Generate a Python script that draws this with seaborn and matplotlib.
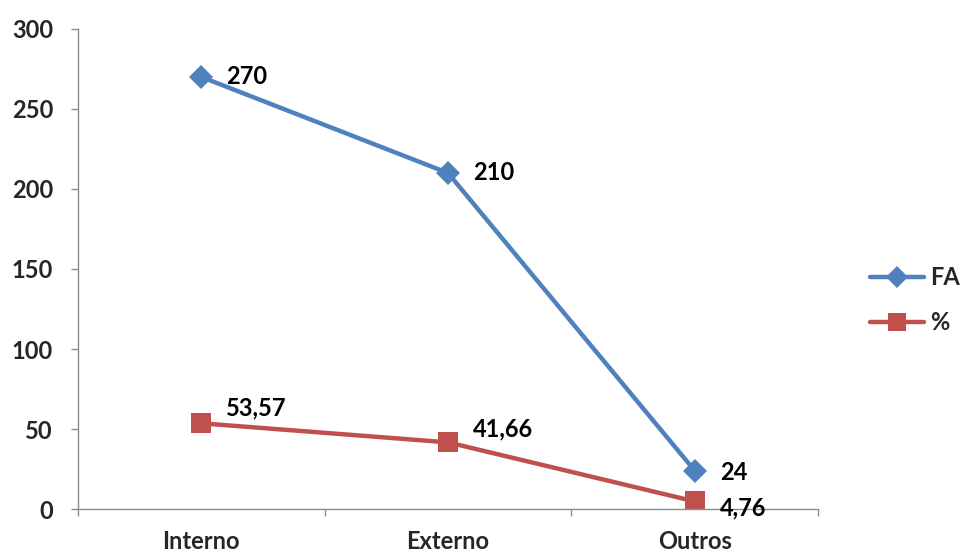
import matplotlib
matplotlib.use("Agg")
import matplotlib.pyplot as plt
import seaborn as sns
import pandas as pd
from matplotlib.lines import Line2D

categories = ["Interno", "Externo", "Outros"]
fa_values = [270, 210, 24]
pct_values = [53.57, 41.66, 4.76]
fa_labels = ["270", "210", "24"]
pct_labels = ["53,57", "41,66", "4,76"]
y_ticks = [0, 50, 100, 150, 200, 250, 300]

sns.set_theme(style="white")
plt.rcParams["font.family"] = ["Lato", "DejaVu Sans"]

BLUE = "#4F81BD"
RED = "#C0504D"
AXIS = "#8C8C8C"
FS = 17

fig = plt.figure(figsize=(9.62, 5.54), dpi=100)
ax = fig.add_axes([0.0811, 0.0812, 0.7692, 0.8665])

df = pd.DataFrame({
    "x": list(range(len(categories))) * 2,
    "valor": fa_values + pct_values,
    "serie": ["FA"] * 3 + ["%"] * 3,
})

sns.lineplot(data=df[df.serie == "FA"], x="x", y="valor", ax=ax, color=BLUE,
             linewidth=3.2, marker="D", markersize=12, markeredgewidth=0,
             legend=False)
sns.lineplot(data=df[df.serie == "%"], x="x", y="valor", ax=ax, color=RED,
             linewidth=3.2, marker="s", markersize=15, markeredgewidth=0,
             legend=False)

label_kw = dict(textcoords="offset points", fontsize=FS, fontweight="bold",
                color="black", va="center", ha="left")
fa_offsets = [(18, 0), (18, 0), (18, -1)]
pct_offsets = [(18, 11), (18, 10), (18, -5)]
for i, (v, t) in enumerate(zip(fa_values, fa_labels)):
    ax.annotate(t, (i, v), xytext=fa_offsets[i], **label_kw)
for i, (v, t) in enumerate(zip(pct_values, pct_labels)):
    ax.annotate(t, (i, v), xytext=pct_offsets[i], **label_kw)

ax.set_xlim(-0.5, 2.5)
ax.set_ylim(0, 300)
ax.set_yticks(y_ticks)
ax.set_yticklabels([str(t) for t in y_ticks], fontsize=FS, fontweight="bold")
ax.set_xticks([0, 1, 2])
ax.set_xticklabels(categories, fontsize=FS, fontweight="bold")
ax.set_xticks([-0.5, 0.5, 1.5, 2.5], minor=True)
ax.tick_params(axis="x", which="major", length=0, pad=15)
ax.tick_params(axis="x", which="minor", length=5, width=1, color=AXIS,
               direction="out", bottom=True)
ax.tick_params(axis="y", which="major", length=5, width=1, color=AXIS,
               direction="out", left=True, pad=13)
ax.set_xlabel("")
ax.set_ylabel("")
ax.grid(False)
for side in ["top", "right"]:
    ax.spines[side].set_visible(False)
for side in ["left", "bottom"]:
    ax.spines[side].set_color(AXIS)
    ax.spines[side].set_linewidth(1)

handles = [
    Line2D([], [], color=BLUE, linewidth=3.2, marker="D", markersize=11,
           markeredgewidth=0),
    Line2D([], [], color=RED, linewidth=3.2, marker="s", markersize=13,
           markeredgewidth=0),
]
fig.legend(handles, ["FA", "%"], loc="center left",
           bbox_to_anchor=(0.904, 0.458), frameon=False, borderpad=0,
           borderaxespad=0, handlelength=2.3, handletextpad=0.25,
           labelspacing=0.95, prop={"size": FS, "weight": "bold"})

fig.savefig("out.png", dpi=100)
